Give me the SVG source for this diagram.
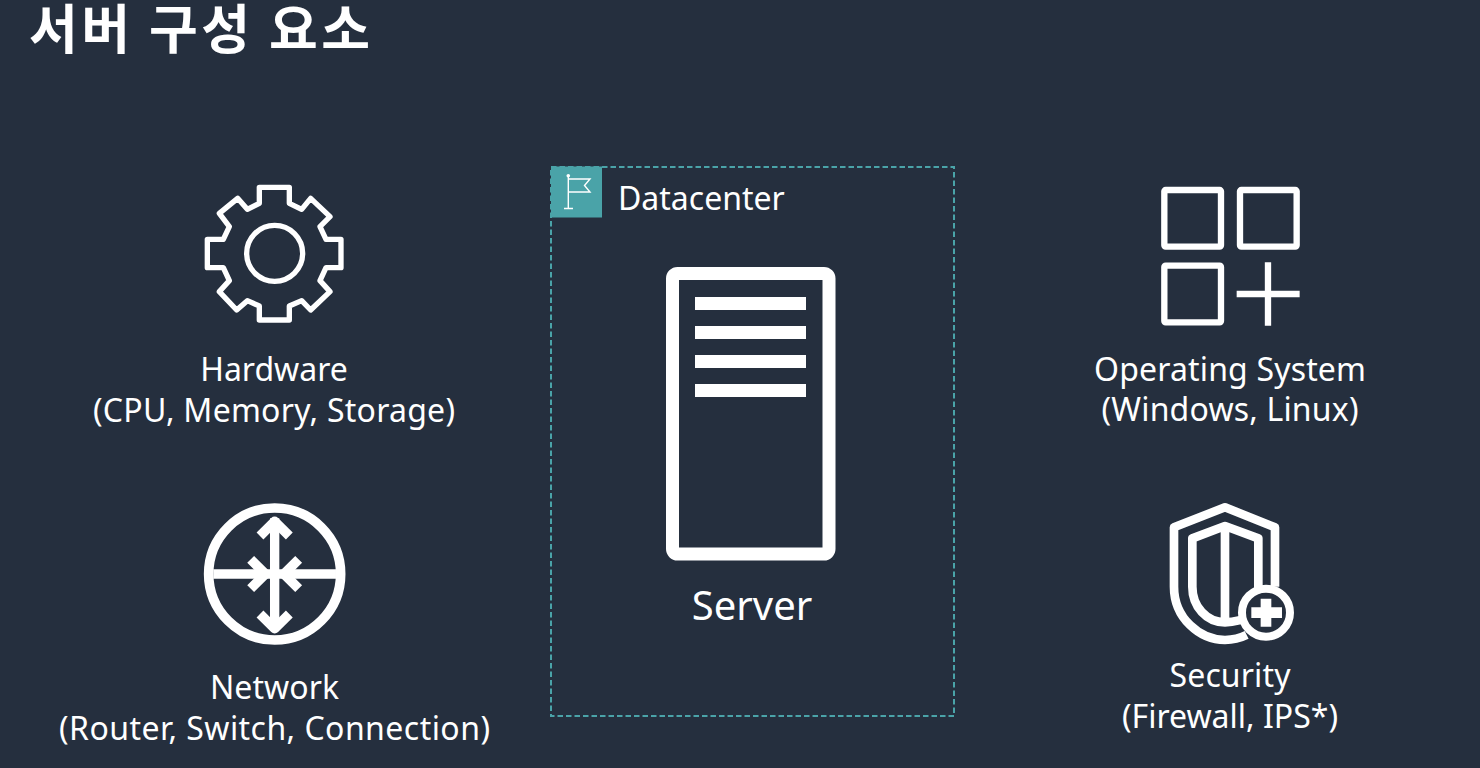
<svg xmlns="http://www.w3.org/2000/svg" width="1480" height="768" viewBox="0 0 1480 768">
<style>
.t{font-family:"Noto Sans","Liberation Sans",sans-serif;font-size:32px;fill:#fff;text-anchor:middle}
.i{fill:none;stroke:#fff;stroke-linejoin:round}
.f{fill:#fff;stroke:none}
</style>
<rect width="1480" height="768" fill="#252f3e"/>
<text id="title" x="29" y="48.500" font-family="'Noto Sans CJK KR',sans-serif" font-weight="700" font-size="53" letter-spacing="3.500" fill="#fff">서버 구성 요소</text>
<g id="hardware">
<g transform="translate(190 170) scale(.3333)"><path class="i" stroke-width="16" d="M208 100V52H298V100L335 118L362 85L420 140L390 170L408 208H453V293H408L390 332L420 365L362 420L335 392L298 408V450H208V408L172 392L140 420L88 365L118 332L100 293H52V208H100L118 170L88 130L143 85L172 118Z"/><circle class="i" stroke-width="16" cx="254" cy="250" r="84"/></g>
<text class="t" x="274" y="381">Hardware</text>
<text class="t" x="274" y="422" textLength="362">(CPU, Memory, Storage)</text>
</g>
<g id="network">
<g transform="translate(190 490) scale(.3333)"><circle class="i" stroke-width="29" cx="254" cy="252" r="198"/><path class="i" stroke-linejoin="miter" d="M254 85V420M70 252H438" stroke-width="28"/><path class="i" stroke-width="29" stroke-linejoin="miter" d="M210 138L254 94L298 138M210 372L254 416L298 372M182 208L226 252L182 296M326 208L282 252L326 296"/></g>
<text class="t" x="274.500" y="699" textLength="129">Network</text>
<text class="t" x="274.500" y="740" textLength="431">(Router, Switch, Connection)</text>
</g>
<g id="datacenter">
<rect x="551" y="167" width="403" height="549" fill="none" stroke="#4aa3a8" stroke-width="2" stroke-dasharray="5.500 3"/>
<rect x="551" y="166.500" width="51" height="51" fill="#4aa3a8"/>
<path d="M568.300 175.500V208.500M564 208.500H573M568.300 179H590L584.500 185.500L590 192H568.300" fill="none" stroke="#fff" stroke-width="1.400"/>
<circle cx="568.300" cy="175.800" r="1.800" fill="#fff"/>
<text class="t" x="618" y="210" style="text-anchor:start">Datacenter</text>
</g>
<g id="server">
<rect x="672.500" y="273.500" width="156.500" height="280.500" rx="5" class="i" stroke-width="13"/>
<path class="f" d="M695 297h111v13H695zM695 326h111v13H695zM695 355h111v13H695zM695 384h111v13H695z"/>
<text class="t" x="752" y="620" style="font-size:40px">Server</text>
</g>
<g id="operating-system">
<g transform="translate(1150 175) scale(.3333)"><rect class="i" stroke-width="19" x="43" y="45" width="170" height="170" rx="4"/><rect class="i" stroke-width="19" x="270" y="45" width="170" height="170" rx="4"/><rect class="i" stroke-width="19" x="43" y="272" width="170" height="170" rx="4"/><path class="i" stroke-width="19" stroke-linejoin="miter" d="M354 262V452M260 357H449"/></g>
<text class="t" x="1230" y="381" textLength="272">Operating System</text>
<text class="t" x="1230" y="421" textLength="257">(Windows, Linux)</text>
</g>
<g id="security">
<g transform="translate(1150 490) scale(.3333)"><path class="i" stroke-width="26" d="M375 290V112L225 52L72 112V290C72 385 150 450 225 450C250 450 270 445 290 435"/><path class="i" stroke-width="26" d="M272 390C260 393 245 397 225 397C170 397 127 350 127 290V145L225 108L325 145V298M225 108V385"/><circle cx="348" cy="368" r="72" fill="#252f3e" stroke="#fff" stroke-width="24"/><path class="f" d="M332 326h32v26h32v32h-32v26h-32v-26h-28v-32h28z"/></g>
<text class="t" x="1230" y="687" textLength="121">Security</text>
<text class="t" x="1230" y="728">(Firewall, IPS*)</text>
</g>
</svg>
